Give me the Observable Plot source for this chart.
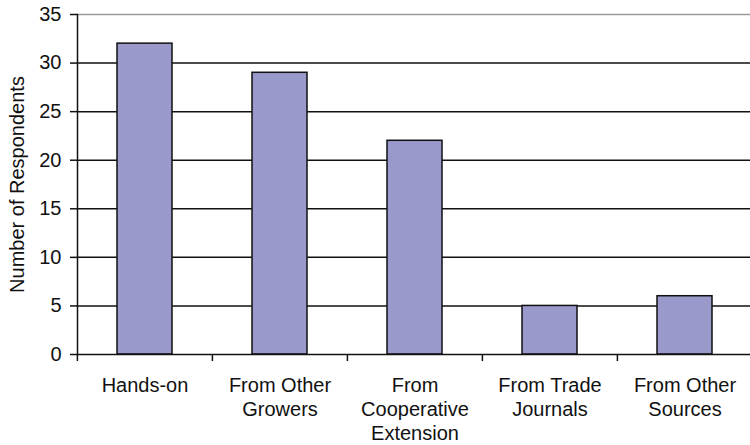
<!DOCTYPE html>
<html>
<head>
<meta charset="utf-8">
<script src="https://cdn.jsdelivr.net/npm/d3@7"></script>
<script src="https://cdn.jsdelivr.net/npm/@observablehq/plot@0.6"></script>
<style>
  html, body { margin: 0; padding: 0; background: #fff; }
  #chart { width: 750px; height: 445px; overflow: hidden; }
</style>
</head>
<body>
<div id="chart"></div>
<script>
// Where growers learned their skills
const categories = [
  "Hands-on",
  "From Other\nGrowers",
  "From\nCooperative\nExtension",
  "From Trade\nJournals",
  "From Other\nSources"
];
const respondents = [32, 29, 22, 5, 6];
const yTicks = [0, 5, 10, 15, 20, 25, 30, 35];
const yLabel = "Number of Respondents";

const data = categories.map((c, i) => ({source: c, count: respondents[i]}));

const width = 750, height = 445;
const marginLeft = 77, marginRight = -3, marginTop = 14, marginBottom = 91;
const xOptions = {domain: categories, paddingInner: 0.59, paddingOuter: 0.295};

// band step, used to put the category tick marks between the bars
const xScale = Plot.scale({x: {type: "band", ...xOptions, range: [marginLeft, width - marginRight]}});
const step = xScale.step;

const chart = Plot.plot({
  width, height, marginLeft, marginRight, marginTop, marginBottom,
  x: xOptions,
  y: {domain: [0, 35], ticks: yTicks},
  style: {fontFamily: "'Liberation Sans', Arial, sans-serif", fontSize: "20px", color: "#111", background: "#fff"},
  marks: [
    Plot.ruleY(yTicks.filter(t => t > 0 && t < 35), {stroke: "#111", strokeWidth: 1.5}),
    Plot.ruleY([35], {stroke: "#9a9a9a", strokeWidth: 1.5}),
    Plot.barY(data, {x: "source", y: "count", fill: "#9999cc", stroke: "#111", strokeWidth: 1.5}),
    Plot.ruleY([0], {stroke: "#111", strokeWidth: 1.5}),
    Plot.frame({anchor: "left", stroke: "#111", strokeWidth: 1.5}),
    Plot.ruleX(categories, {x: d => d, y1: 0, y2: 0, dx: -step / 2, insetBottom: -7, stroke: "#111", strokeWidth: 1.5}),
    Plot.axisY({ticks: yTicks, tickSize: 7, tickPadding: 9, label: null, fontSize: 20, strokeWidth: 1.5}),
    Plot.axisX({tickSize: 0, tickPadding: 20, label: null, lineHeight: 1.2, fontSize: 20}),
    Plot.text([yLabel], {frameAnchor: "left", textAnchor: "middle", dx: -60, rotate: -90, fontSize: 20, fill: "#111"})
  ]
});

document.getElementById("chart").appendChild(chart);
</script>
</body>
</html>
